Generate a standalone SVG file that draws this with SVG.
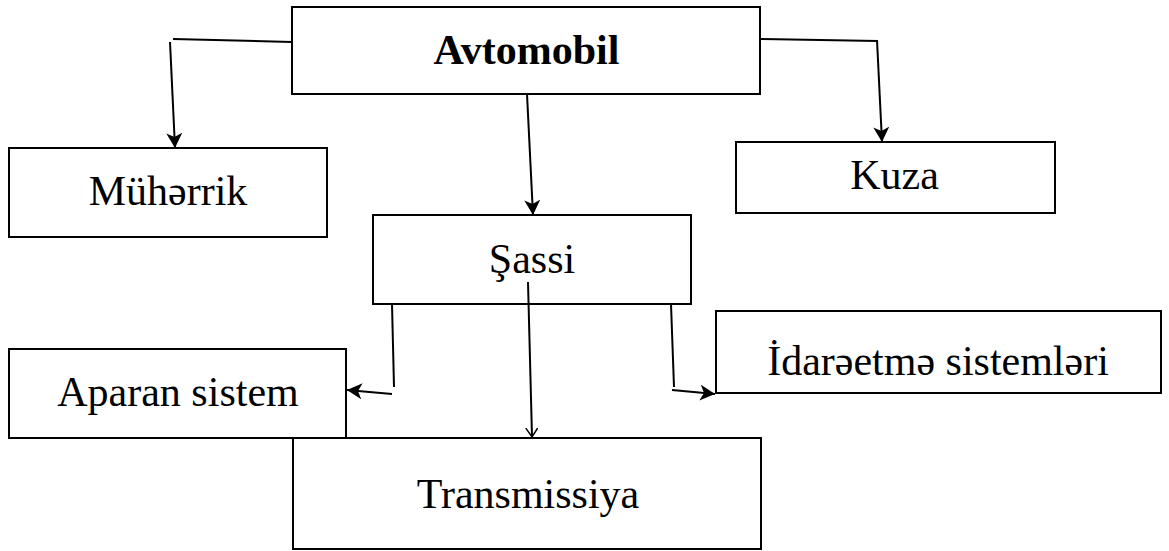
<svg xmlns="http://www.w3.org/2000/svg" width="1169" height="551" viewBox="0 0 1169 551">
  <style>
    .box { fill: #ffffff; stroke: #000000; stroke-width: 2; }
    .lbl { font-family: "Liberation Serif", "Times New Roman", serif; font-size: 42px; fill: #000000; text-anchor: middle; }
    .bold { font-weight: bold; font-size: 42px; }
    .ln { fill: none; stroke: #000000; stroke-width: 2; }
  </style>
  <defs>
    <marker id="arrow" markerUnits="userSpaceOnUse" markerWidth="18" markerHeight="18" refX="15" refY="8" orient="auto">
      <path d="M0,0 L15,8 L0,16 L4,8 Z" fill="#000000"/>
    </marker>
    <marker id="vopen" markerUnits="userSpaceOnUse" markerWidth="12" markerHeight="14" refX="9" refY="6" orient="auto">
      <path d="M0,0 L9,6 L0,12" fill="none" stroke="#000000" stroke-width="1.5"/>
    </marker>
  </defs>

  <rect width="1169" height="551" fill="#ffffff"/>

  <g id="node-avtomobil">
    <rect class="box" x="292" y="7" width="468" height="87"/>
    <text class="lbl bold" x="526.5" y="64">Avtomobil</text>
  </g>

  <g id="node-muherrik">
    <rect class="box" x="9" y="148" width="318" height="89"/>
    <text class="lbl" x="168" y="205">Mühərrik</text>
  </g>

  <g id="node-kuza">
    <rect class="box" x="736" y="142" width="319" height="71"/>
    <text class="lbl" x="894.5" y="189">Kuza</text>
  </g>

  <g id="node-sassi">
    <rect class="box" x="373" y="215" width="318" height="89"/>
    <text class="lbl" x="532" y="273">Şassi</text>
  </g>

  <g id="node-idareetme">
    <rect class="box" x="716" y="311" width="445" height="82"/>
    <text class="lbl" x="938" y="375">İdarəetmə sistemləri</text>
  </g>

  <g id="node-aparan">
    <rect class="box" x="9" y="349" width="337" height="89"/>
    <text class="lbl" x="178" y="406">Aparan sistem</text>
  </g>

  <g id="node-transmissiya">
    <rect class="box" x="293" y="438" width="468" height="111"/>
    <text class="lbl" x="528" y="508">Transmissiya</text>
  </g>

  <g id="connectors">
    <!-- Avtomobil to Mühərrik -->
    <path class="ln" d="M292,42 L173,39"/>
    <path class="ln" d="M170,42 L175,148" marker-end="url(#arrow)"/>
    <!-- Avtomobil to Kuza -->
    <path class="ln" d="M761,39 L878,41"/>
    <path class="ln" d="M877,40 L882,142" marker-end="url(#arrow)"/>
    <!-- Avtomobil to Şassi -->
    <path class="ln" d="M527,94 L533,215" marker-end="url(#arrow)"/>
    <!-- Şassi to Aparan sistem -->
    <path class="ln" d="M392,304 L394,387"/>
    <path class="ln" d="M392,394 L347,390" marker-end="url(#arrow)"/>
    <!-- Şassi to Transmissiya -->
    <path class="ln" d="M528,282 L532,437" marker-end="url(#vopen)"/>
    <!-- Şassi to İdarəetmə sistemləri -->
    <path class="ln" d="M671,304 L674,387"/>
    <path class="ln" d="M672,390 L715,394" marker-end="url(#arrow)"/>
  </g>
</svg>
